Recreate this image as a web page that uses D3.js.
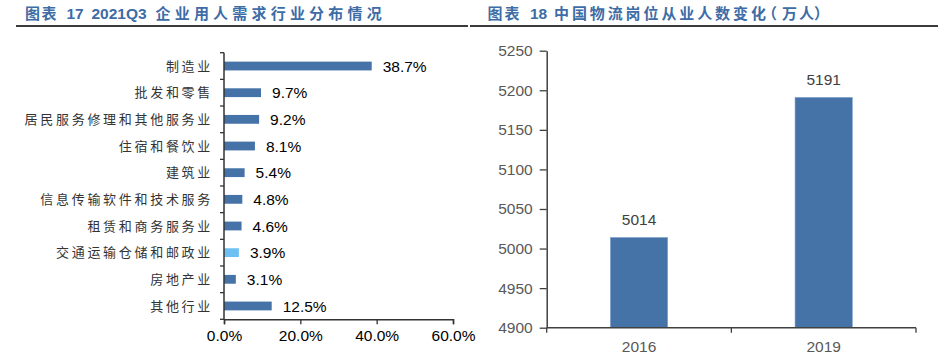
<!DOCTYPE html>
<html><head><meta charset="utf-8">
<script src="https://cdn.jsdelivr.net/npm/d3@7"></script>
<style>
html,body{margin:0;padding:0;background:#fff;}
svg{display:block;}
</style></head>
<body>
<svg id="c" width="947" height="361"></svg>
<script>
// ---- Data: left chart ----
const industries = ["制造业","批发和零售","居民服务修理和其他服务业","住宿和餐饮业","建筑业","信息传输软件和技术服务","租赁和商务服务业","交通运输仓储和邮政业","房地产业","其他行业"];
const shares = [0.387,0.097,0.092,0.081,0.054,0.048,0.046,0.039,0.031,0.125];
const highlightIndustry = "交通运输仓储和邮政业";
const shareTicks = [0,0.2,0.4,0.6];
// ---- Data: right chart ----
const years = ["2016","2019"];
const workers = [5014,5191];
const workerTicks = [4900,4950,5000,5050,5100,5150,5200,5250];

const svg = d3.select("#c");
const blue = "#4572a7", light = "#6fc0f2", titleBlue = "#3d6ca6";
const latin = "Arial, 'Liberation Sans', sans-serif";
const cjk = "'Noto Sans CJK SC', sans-serif";

// ---- Titles (per-character x positions for CJK runs) ----
function title(parts, y){
  const t = svg.append("text").attr("y", y).attr("fill", titleBlue).attr("font-weight","bold");
  parts.forEach(p=>{
    t.append("tspan").attr("x",Array.isArray(p.x)?p.x.join(" "):p.x)
     .attr("font-family",p.f).attr("font-size",p.s).text(p.t);
  });
}
const seq = (start, n, pitch) => d3.range(n).map(i => +(start + i*pitch).toFixed(1));
title([
  {x:[25,41.5],t:"图表",f:cjk,s:15},
  {x:66.5,t:"17",f:latin,s:15.5},
  {x:91.5,t:"2021Q3",f:latin,s:15.5},
  {x:seq(155.5,12,19.2),t:"企业用人需求行业分布情况",f:cjk,s:15}
],19);
title([
  {x:[487.5,504.5],t:"图表",f:cjk,s:15},
  {x:530,t:"18",f:latin,s:15.5},
  {x:seq(554,12,17.9).concat([762,782,799,814]),t:"中国物流岗位从业人数变化（万人）",f:cjk,s:15}
],19);
svg.append("line").attr("x1",16).attr("x2",468).attr("y1",26).attr("y2",26).attr("stroke","#3a3a3a").attr("stroke-width",2);
svg.append("line").attr("x1",470).attr("x2",938).attr("y1",26).attr("y2",26).attr("stroke","#3a3a3a").attr("stroke-width",2);

// ---- Left chart ----
const x1 = d3.scaleLinear().domain([0,0.6]).range([224,453]);
const y1 = d3.scaleBand().domain(industries).range([52.7,319.3]).paddingInner(0.67).paddingOuter(0.335);
const g1 = svg.append("g");
const data1 = industries.map((c,i)=>({c, v:shares[i]}));
g1.selectAll("rect.bar").data(data1).join("rect").attr("class","bar")
  .attr("x",x1(0)).attr("y",d=>y1(d.c)).attr("width",d=>x1(d.v)-x1(0)).attr("height",y1.bandwidth())
  .attr("fill",d=>d.c===highlightIndustry?light:blue);
g1.selectAll("text.val").data(data1).join("text").attr("class","val")
  .attr("x",d=>x1(d.v)+11).attr("y",d=>y1(d.c)+y1.bandwidth()/2).attr("dy","0.36em")
  .attr("font-family",latin).attr("font-size",15.5).attr("fill","#000")
  .text(d=>(d.v*100).toFixed(1)+"%");
g1.selectAll("text.cat").data(industries).join("text").attr("class","cat")
  .attr("x",213).attr("y",d=>y1(d)+y1.bandwidth()/2).attr("dy","0.36em")
  .attr("text-anchor","end").attr("font-family",cjk).attr("font-size",13).attr("letter-spacing",2.7)
  .attr("fill","#333").text(d=>d);
// y axis line + boundary ticks
const step1 = y1.step();
const bounds1 = d3.range(industries.length+1).map(i=>y1.range()[0]+i*step1);
g1.append("line").attr("x1",x1(0)).attr("x2",x1(0)).attr("y1",bounds1[0]).attr("y2",bounds1[bounds1.length-1]).attr("stroke","#333").attr("stroke-width",1.5);
g1.selectAll("line.yt").data(bounds1).join("line").attr("class","yt")
  .attr("x1",x1(0)-4).attr("x2",x1(0)).attr("y1",d=>d).attr("y2",d=>d).attr("stroke","#333").attr("stroke-width",1.3);
const xa1 = d3.axisBottom(x1).tickValues(shareTicks).tickFormat(d3.format(".1%")).tickSize(5).tickPadding(6);
const gx1 = g1.append("g").attr("transform",`translate(0,${bounds1[bounds1.length-1]})`).call(xa1);
gx1.select(".domain").attr("stroke","#333").attr("stroke-width",1.5);
gx1.selectAll(".tick line").attr("stroke","#333").attr("stroke-width",1.3);
gx1.selectAll(".tick text").attr("font-family",latin).attr("font-size",15.5).attr("fill","#000");

// ---- Right chart ----
const y2 = d3.scaleLinear().domain([4900,5250]).range([327.7,50.7]);
const x2 = d3.scaleBand().domain(years).range([546.7,916]).paddingInner(0.69).paddingOuter(0.345);
const g2 = svg.append("g");
const data2 = years.map((c,i)=>({c,v:workers[i]}));
g2.selectAll("rect").data(data2).join("rect")
  .attr("x",d=>x2(d.c)).attr("y",d=>y2(d.v)).attr("width",x2.bandwidth()).attr("height",d=>y2(4900)-y2(d.v))
  .attr("fill",blue).attr("stroke","#7fa3cc").attr("stroke-width",0.6);
g2.selectAll("text.val").data(data2).join("text").attr("class","val")
  .attr("x",d=>x2(d.c)+x2.bandwidth()/2).attr("y",d=>y2(d.v)-12)
  .attr("text-anchor","middle").attr("font-family",latin).attr("font-size",15.5).attr("fill","#404040")
  .text(d=>d.v);
const ya2 = d3.axisLeft(y2).tickValues(workerTicks).tickFormat(d3.format("d")).tickSize(7).tickPadding(7).tickSizeOuter(0);
const gy2 = g2.append("g").attr("transform",`translate(${x2.range()[0]},0)`).call(ya2);
gy2.select(".domain").attr("stroke","#404040").attr("stroke-width",1.5);
gy2.selectAll(".tick line").attr("stroke","#404040").attr("stroke-width",1.3);
gy2.selectAll(".tick text").attr("font-family",latin).attr("font-size",15.5).attr("fill","#595959");
// x axis with boundary ticks
const base2 = y2(4900);
g2.append("line").attr("x1",x2.range()[0]).attr("x2",x2.range()[1]).attr("y1",base2).attr("y2",base2).attr("stroke","#404040").attr("stroke-width",1.5);
const bounds2 = d3.range(years.length+1).map(i=>x2.range()[0]+i*x2.step());
g2.selectAll("line.xt").data(bounds2).join("line").attr("class","xt")
  .attr("x1",d=>d).attr("x2",d=>d).attr("y1",base2).attr("y2",base2+5).attr("stroke","#404040").attr("stroke-width",1.3);
g2.selectAll("text.cat").data(years).join("text").attr("class","cat")
  .attr("x",d=>x2(d)+x2.bandwidth()/2).attr("y",352)
  .attr("text-anchor","middle").attr("font-family",latin).attr("font-size",15.5).attr("fill","#595959").text(d=>d);
</script>
</body></html>
